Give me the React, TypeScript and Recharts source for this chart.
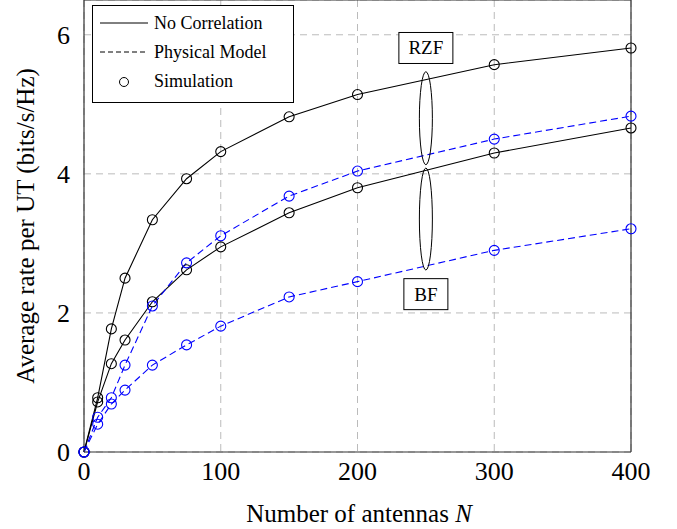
import React from 'react';
import { LineChart, Line, XAxis, YAxis, CartesianGrid, ReferenceDot, ReferenceLine, Legend } from 'recharts';

// number of antennas N
const antennas = [0, 10, 20, 30, 50, 75, 100, 150, 200, 300, 400];
// RZF
const rzfNoCorr = [0, 0.78, 1.77, 2.5, 3.34, 3.93, 4.32, 4.82, 5.14, 5.57, 5.81];
const rzfPhysical = [0, 0.5, 0.78, 1.25, 2.1, 2.72, 3.11, 3.68, 4.04, 4.5, 4.83];
// BF
const bfNoCorr = [0, 0.72, 1.27, 1.61, 2.16, 2.62, 2.95, 3.44, 3.8, 4.3, 4.66];
const bfPhysical = [0, 0.4, 0.69, 0.89, 1.25, 1.54, 1.81, 2.23, 2.45, 2.9, 3.21];

const xTicks = [0, 100, 200, 300, 400];
const yTicks = [0, 2, 4, 6];

const data = antennas.map((n, i) => ({
  n,
  rzfNoCorr: rzfNoCorr[i],
  rzfPhysical: rzfPhysical[i],
  bfNoCorr: bfNoCorr[i],
  bfPhysical: bfPhysical[i],
}));

const FONT = 'Liberation Serif, serif';
const BLUE = '#0000ff';

const circleDot = (color: string) => (p: any) => (
  <circle key={`${color}-${p.index}`} cx={p.cx} cy={p.cy} r={5} fill="none" stroke={color} strokeWidth={1.1} />
);

const LegendBox = () => (
  <svg width={203} height={99} style={{ display: 'block', fontFamily: FONT }}>
    <rect x={0.5} y={0.5} width={201} height={97} fill="#fff" stroke="#000" strokeWidth={1} />
    <line x1={8} y1={18} x2={56} y2={18} stroke="#000" strokeWidth={1} />
    <text x={62} y={24} fontSize={18} fill="#000" style={{ fontFamily: FONT }}>No Correlation</text>
    <line x1={8} y1={47} x2={56} y2={47} stroke="#000" strokeWidth={1} strokeDasharray="5 3" />
    <text x={62} y={53} fontSize={18} fill="#000" style={{ fontFamily: FONT }}>Physical Model</text>
    <circle cx={32} cy={77} r={4.5} fill="none" stroke="#000" strokeWidth={1} />
    <text x={62} y={82} fontSize={18} fill="#000" style={{ fontFamily: FONT }}>Simulation</text>
  </svg>
);

const Ellipse = (ry: number) => (p: any) => (
  <ellipse cx={p.cx} cy={p.cy} rx={6.5} ry={ry} fill="none" stroke="#000" strokeWidth={1} />
);

const BoxLabel = (text: string, w: number) => (p: any) => (
  <g>
    <rect x={p.cx - w / 2} y={p.cy - 15.5} width={w} height={31} fill="#fff" stroke="#000" strokeWidth={1} />
    <text x={p.cx} y={p.cy + 6.5} textAnchor="middle" fontSize={19} fill="#000" style={{ fontFamily: FONT }}>
      {text}
    </text>
  </g>
);

export default function App() {
  return (
    <div style={{ position: 'absolute', left: 0, top: 0, width: 677, height: 529, fontFamily: FONT }}>
      <LineChart
        width={677}
        height={529}
        data={data}
        margin={{ top: 0, right: 46, bottom: 0, left: 0 }}
        style={{ fontFamily: FONT }}
      >
        <CartesianGrid stroke="#bbb" strokeDasharray="7 5" strokeWidth={1} />
        <XAxis
          dataKey="n"
          type="number"
          domain={[0, 400]}
          ticks={xTicks}
          height={77}
          tickLine={false}
          tickSize={4}
          tickMargin={6}
          axisLine={{ stroke: '#333', strokeWidth: 1.2 }}
          tick={{ fill: '#000', fontSize: 26, fontFamily: FONT, style: { fontFamily: FONT } }}
          label={{
            content: () => (
              <text x={359} y={522} textAnchor="middle" fontSize={25} fill="#000" style={{ fontFamily: FONT }}>
                Number of antennas <tspan fontStyle="italic">N</tspan>
              </text>
            ),
          }}
        />
        <YAxis
          type="number"
          domain={[0, 6.5]}
          ticks={yTicks}
          width={84}
          tickLine={false}
          tickSize={6}
          tickMargin={8}
          axisLine={{ stroke: '#333', strokeWidth: 1.2 }}
          tick={{ fill: '#000', fontSize: 26, fontFamily: FONT, style: { fontFamily: FONT } }}
          label={{
            content: () => (
              <text
                x={34}
                y={226}
                transform="rotate(-90, 34, 226)"
                textAnchor="middle"
                fontSize={25}
                fill="#000"
                style={{ fontFamily: FONT }}
              >
                Average rate per UT (bits/s/Hz)
              </text>
            ),
          }}
        />
        <ReferenceLine x={400} stroke="#333" strokeWidth={1.2} />
        <ReferenceLine y={6.5} stroke="#333" strokeWidth={1.2} />

        <Line dataKey="rzfNoCorr" stroke="#000" strokeWidth={1.1} dot={circleDot('#000')} isAnimationActive={false} />
        <Line dataKey="bfNoCorr" stroke="#000" strokeWidth={1.1} dot={circleDot('#000')} isAnimationActive={false} />
        <Line dataKey="rzfPhysical" stroke={BLUE} strokeWidth={1.1} strokeDasharray="7 4" dot={circleDot(BLUE)} isAnimationActive={false} />
        <Line dataKey="bfPhysical" stroke={BLUE} strokeWidth={1.1} strokeDasharray="7 4" dot={circleDot(BLUE)} isAnimationActive={false} />

        <ReferenceDot x={250} y={4.8} shape={Ellipse(46.5)} />
        <ReferenceDot x={250} y={3.35} shape={Ellipse(51)} />
        <ReferenceDot x={250} y={5.81} shape={BoxLabel('RZF', 54)} />
        <ReferenceDot x={250} y={2.27} shape={BoxLabel('BF', 44)} />

        <Legend
          layout="vertical"
          align="center"
          verticalAlign="middle"
          wrapperStyle={{ left: 92, top: 5, width: 203, height: 99 }}
          content={() => <LegendBox />}
        />
      </LineChart>
    </div>
  );
}
